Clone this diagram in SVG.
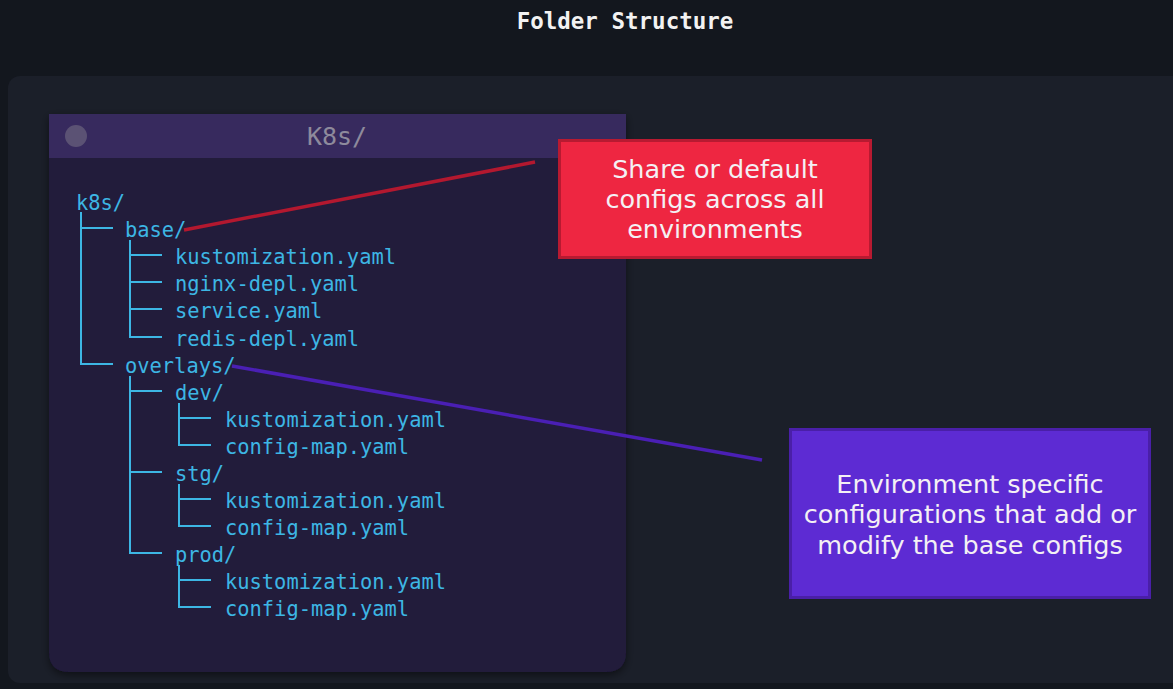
<svg xmlns="http://www.w3.org/2000/svg" width="1173" height="689" viewBox="0 0 1173 689">
<defs>
<style>
.tree{font-family:"DejaVu Sans Mono","Liberation Mono",monospace;font-size:20.4px;fill:#3db6e4}
.br{stroke:#3db6e4;stroke-width:2;fill:none}
.note{font-family:"DejaVu Sans","Liberation Sans",sans-serif;font-size:25.5px;fill:#f4f0f4;text-anchor:middle}
</style>
<filter id="sh" x="-5%" y="-5%" width="110%" height="110%">
<feDropShadow dx="0" dy="3" stdDeviation="4" flood-color="#000" flood-opacity="0.5"/>
</filter>
</defs>
<rect x="0" y="0" width="1173" height="689" fill="#13171e"/>
<rect x="8" y="76" width="1180" height="607" rx="12" fill="#1b1f29"/>
<text x="625" y="29" text-anchor="middle" font-family="DejaVu Sans Mono, Liberation Mono, monospace" font-weight="bold" font-size="22.5" fill="#f2f2f2">Folder Structure</text>

<g id="window">
<path d="M49 114 H626 V652 Q626 672 606 672 H69 Q49 672 49 652 Z" fill="#211b3b" filter="url(#sh)"/>
<rect x="49" y="114" width="577" height="44" fill="#372a5e"/>
<circle cx="76" cy="136" r="11" fill="#5b5274"/>
<text x="337" y="145" text-anchor="middle" font-family="DejaVu Sans Mono, Liberation Mono, monospace" font-size="25" fill="#8e8a9c">K8s/</text>
</g>

<g id="tree-lines">
<path class="br" d="M81 212 V364 H113 M81 228 H113"/>
<path class="br" d="M130 240 V337 H162 M130 255 H162 M130 282 H162 M130 309 H162"/>
<path class="br" d="M130 376 V553 H162 M130 391 H162 M130 472 H162"/>
<path class="br" d="M179 403 V445 H211 M179 418 H211"/>
<path class="br" d="M179 484 V526 H211 M179 499 H211"/>
<path class="br" d="M179 565 V607 H211 M179 580 H211"/>
</g>

<g id="tree-text" class="tree">
<text x="76" y="210">k8s/</text>
<text x="125" y="237">base/</text>
<text x="175" y="264">kustomization.yaml</text>
<text x="175" y="291">nginx-depl.yaml</text>
<text x="175" y="318">service.yaml</text>
<text x="175" y="346">redis-depl.yaml</text>
<text x="125" y="373">overlays/</text>
<text x="175" y="400">dev/</text>
<text x="225" y="427">kustomization.yaml</text>
<text x="225" y="454">config-map.yaml</text>
<text x="175" y="481">stg/</text>
<text x="225" y="508">kustomization.yaml</text>
<text x="225" y="535">config-map.yaml</text>
<text x="175" y="562">prod/</text>
<text x="225" y="589">kustomization.yaml</text>
<text x="225" y="616">config-map.yaml</text>
</g>

<g id="connectors">
<line x1="184" y1="230" x2="535" y2="162" stroke="#b3182f" stroke-width="3.5"/>
<line x1="232" y1="366" x2="762" y2="460" stroke="#4a1fb4" stroke-width="3.5"/>
</g>

<g id="note-base">
<rect x="559.5" y="140.5" width="311" height="117" fill="#ee2641" stroke="#b81a31" stroke-width="3"/>
<text class="note" x="715" y="178">Share or default</text>
<text class="note" x="715" y="208">configs across all</text>
<text class="note" x="715" y="238">environments</text>
</g>

<g id="note-overlays">
<rect x="790.5" y="429.5" width="359" height="168" fill="#5d2bd3" stroke="#4a1fa8" stroke-width="3"/>
<text class="note" x="970" y="493">Environment specific</text>
<text class="note" x="970" y="523">configurations that add or</text>
<text class="note" x="970" y="554">modify the base configs</text>
</g>
</svg>
